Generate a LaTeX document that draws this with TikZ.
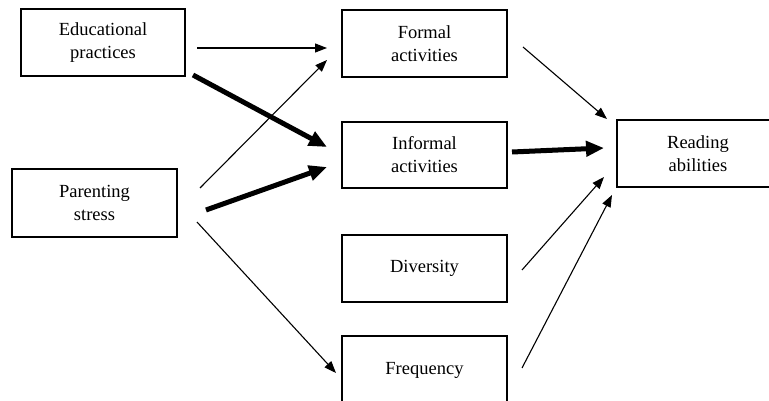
\documentclass[tikz,border=0pt]{standalone}
\usepackage{fontspec}
\setmainfont{Liberation Serif}
\usetikzlibrary{arrows.meta}
\begin{document}
\begin{tikzpicture}[x=1pt,y=-1pt,
  box/.style={draw,line width=1.8pt,align=center,inner sep=0pt,
    font=\fontsize{18.5}{23}\selectfont,minimum width=165pt,minimum height=67pt},
  thinarrow/.style={line width=1.1pt,-{Triangle[length=12pt,width=9pt]}},
  thickarrow/.style={line width=5pt,-{Triangle[length=18pt,width=15pt]}}]
\clip (0,0) rectangle (769,401);
\fill[white] (0,0) rectangle (769,401);

\node[box,minimum width=164pt] (edu) at (103,42.5) {Educational\\practices};
\node[box,minimum height=68pt] (par) at (94.5,203) {Parenting\\stress};
\node[box] (formal) at (424.5,43.5) {Formal\\activities};
\node[box,minimum height=66pt] (informal) at (424.5,155) {Informal\\activities};
\node[box] (diversity) at (424.5,268.5) {Diversity};
\node[box,minimum height=68pt] (freq) at (424.5,370) {Frequency};
\node[box,minimum width=162pt] (read) at (698,153.5) {Reading\\abilities};

% connector end points
\coordinate (e1s) at (197,48);   \coordinate (f1) at (327,48);
\coordinate (e2s) at (193,75);   \coordinate (i1) at (327,147);
\coordinate (p1s) at (200,188);  \coordinate (f2) at (327,60);
\coordinate (p2s) at (206,210);  \coordinate (i2) at (327,167);
\coordinate (p3s) at (197,222);  \coordinate (q1) at (336,373);
\coordinate (f3s) at (523,47);   \coordinate (r1) at (607,119);
\coordinate (i3s) at (512,152);  \coordinate (r2) at (604,148);
\coordinate (d1s) at (522,270);  \coordinate (r3) at (604,177);
\coordinate (q2s) at (522,368);  \coordinate (r4) at (612,195);

\draw[thinarrow] (e1s) -- (f1);
\draw[thickarrow] (e2s) -- (i1);
\draw[thinarrow] (p1s) -- (f2);
\draw[thickarrow] (p2s) -- (i2);
\draw[thinarrow] (p3s) -- (q1);
\draw[thinarrow] (f3s) -- (r1);
\draw[thickarrow] (i3s) -- (r2);
\draw[thinarrow] (d1s) -- (r3);
\draw[thinarrow] (q2s) -- (r4);
\end{tikzpicture}
\end{document}
